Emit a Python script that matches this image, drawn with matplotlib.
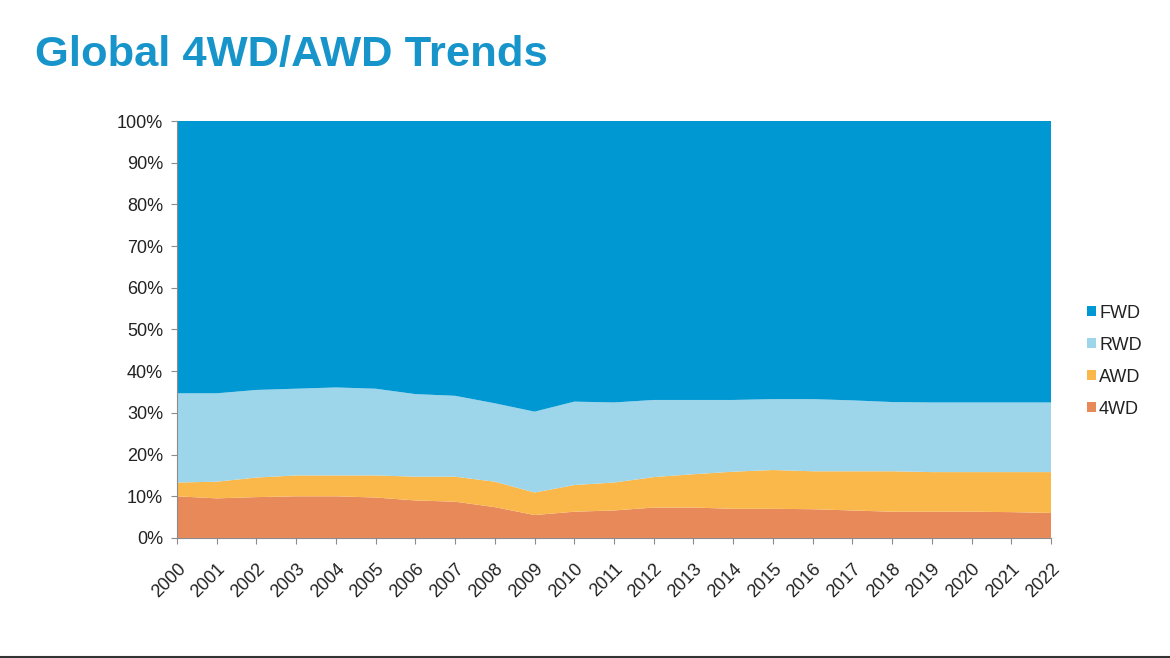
import matplotlib
matplotlib.use("Agg")
import matplotlib.pyplot as plt
from matplotlib.patches import Patch
from matplotlib.ticker import PercentFormatter

years = [str(y) for y in range(2000, 2023)]

# shares in percent
share_4wd = [10.0, 9.5, 9.8, 10.0, 10.0, 9.7, 9.0, 8.7, 7.4, 5.5, 6.3, 6.6,
             7.3, 7.3, 7.0, 7.0, 6.9, 6.6, 6.3, 6.3, 6.3, 6.2, 6.0]
share_awd = [3.3, 4.0, 4.7, 5.0, 5.0, 5.3, 5.7, 6.0, 6.1, 5.4, 6.4, 6.7,
             7.3, 8.0, 8.9, 9.3, 9.1, 9.4, 9.7, 9.5, 9.5, 9.6, 9.8]
share_rwd = [21.4, 21.2, 21.0, 20.8, 21.1, 20.8, 19.8, 19.4, 18.8, 19.4, 20.0, 19.2,
             18.5, 17.8, 17.2, 17.0, 17.3, 17.0, 16.6, 16.7, 16.7, 16.7, 16.7]
share_fwd = [65.3, 65.3, 64.5, 64.2, 63.9, 64.2, 65.5, 65.9, 67.7, 69.7, 67.3, 67.5,
             66.9, 66.9, 66.9, 66.7, 66.7, 67.0, 67.4, 67.5, 67.5, 67.5, 67.5]

labels = ["4WD", "AWD", "RWD", "FWD"]
colors = ["#e8895a", "#fbb84a", "#9dd5ea", "#0098d2"]

plt.rcParams["font.family"] = ["Liberation Sans", "DejaVu Sans"]

fig = plt.figure(figsize=(11.7, 6.58), dpi=100)
ax = fig.add_axes([0.1513, 0.1824, 0.7470, 0.6337])

x = list(range(len(years)))
ax.stackplot(x, share_4wd, share_awd, share_rwd, share_fwd,
             colors=colors, linewidth=0)

ax.set_xlim(0, len(years) - 1)
ax.set_ylim(0, 100)
ax.set_yticks(range(0, 101, 10))
ax.yaxis.set_major_formatter(PercentFormatter(decimals=0))
ax.set_xticks(x)
ax.set_xticklabels(years, rotation=45, ha="right", rotation_mode="anchor")

for side in ["top", "right"]:
    ax.spines[side].set_visible(False)
for side in ["left", "bottom"]:
    ax.spines[side].set_color("#8c8c8c")
    ax.spines[side].set_linewidth(0.8)
ax.tick_params(axis="both", colors="#8c8c8c", length=4, width=0.8,
               labelsize=13, labelcolor="#222222")
ax.tick_params(axis="y", pad=6)
ax.tick_params(axis="x", pad=12)

handles = [Patch(facecolor=c, edgecolor="none") for c in colors[::-1]]
fig.legend(handles, labels[::-1], loc="center left",
           bbox_to_anchor=(0.9155, 0.451), frameon=False, fontsize=13,
           handlelength=0.45, handleheight=0.45, handletextpad=0.2,
           labelspacing=0.83, labelcolor="#222222")

fig.text(0.030, 0.900, "Global 4WD/AWD Trends", fontsize=31.3, fontweight="bold",
         color="#1795cb", va="baseline", ha="left")

# thin dark rule along the bottom edge
fig.add_artist(plt.Line2D([0, 1], [0.0015, 0.0015], color="#333333",
                          linewidth=1.5, transform=fig.transFigure))

fig.savefig("out.png", dpi=100)
